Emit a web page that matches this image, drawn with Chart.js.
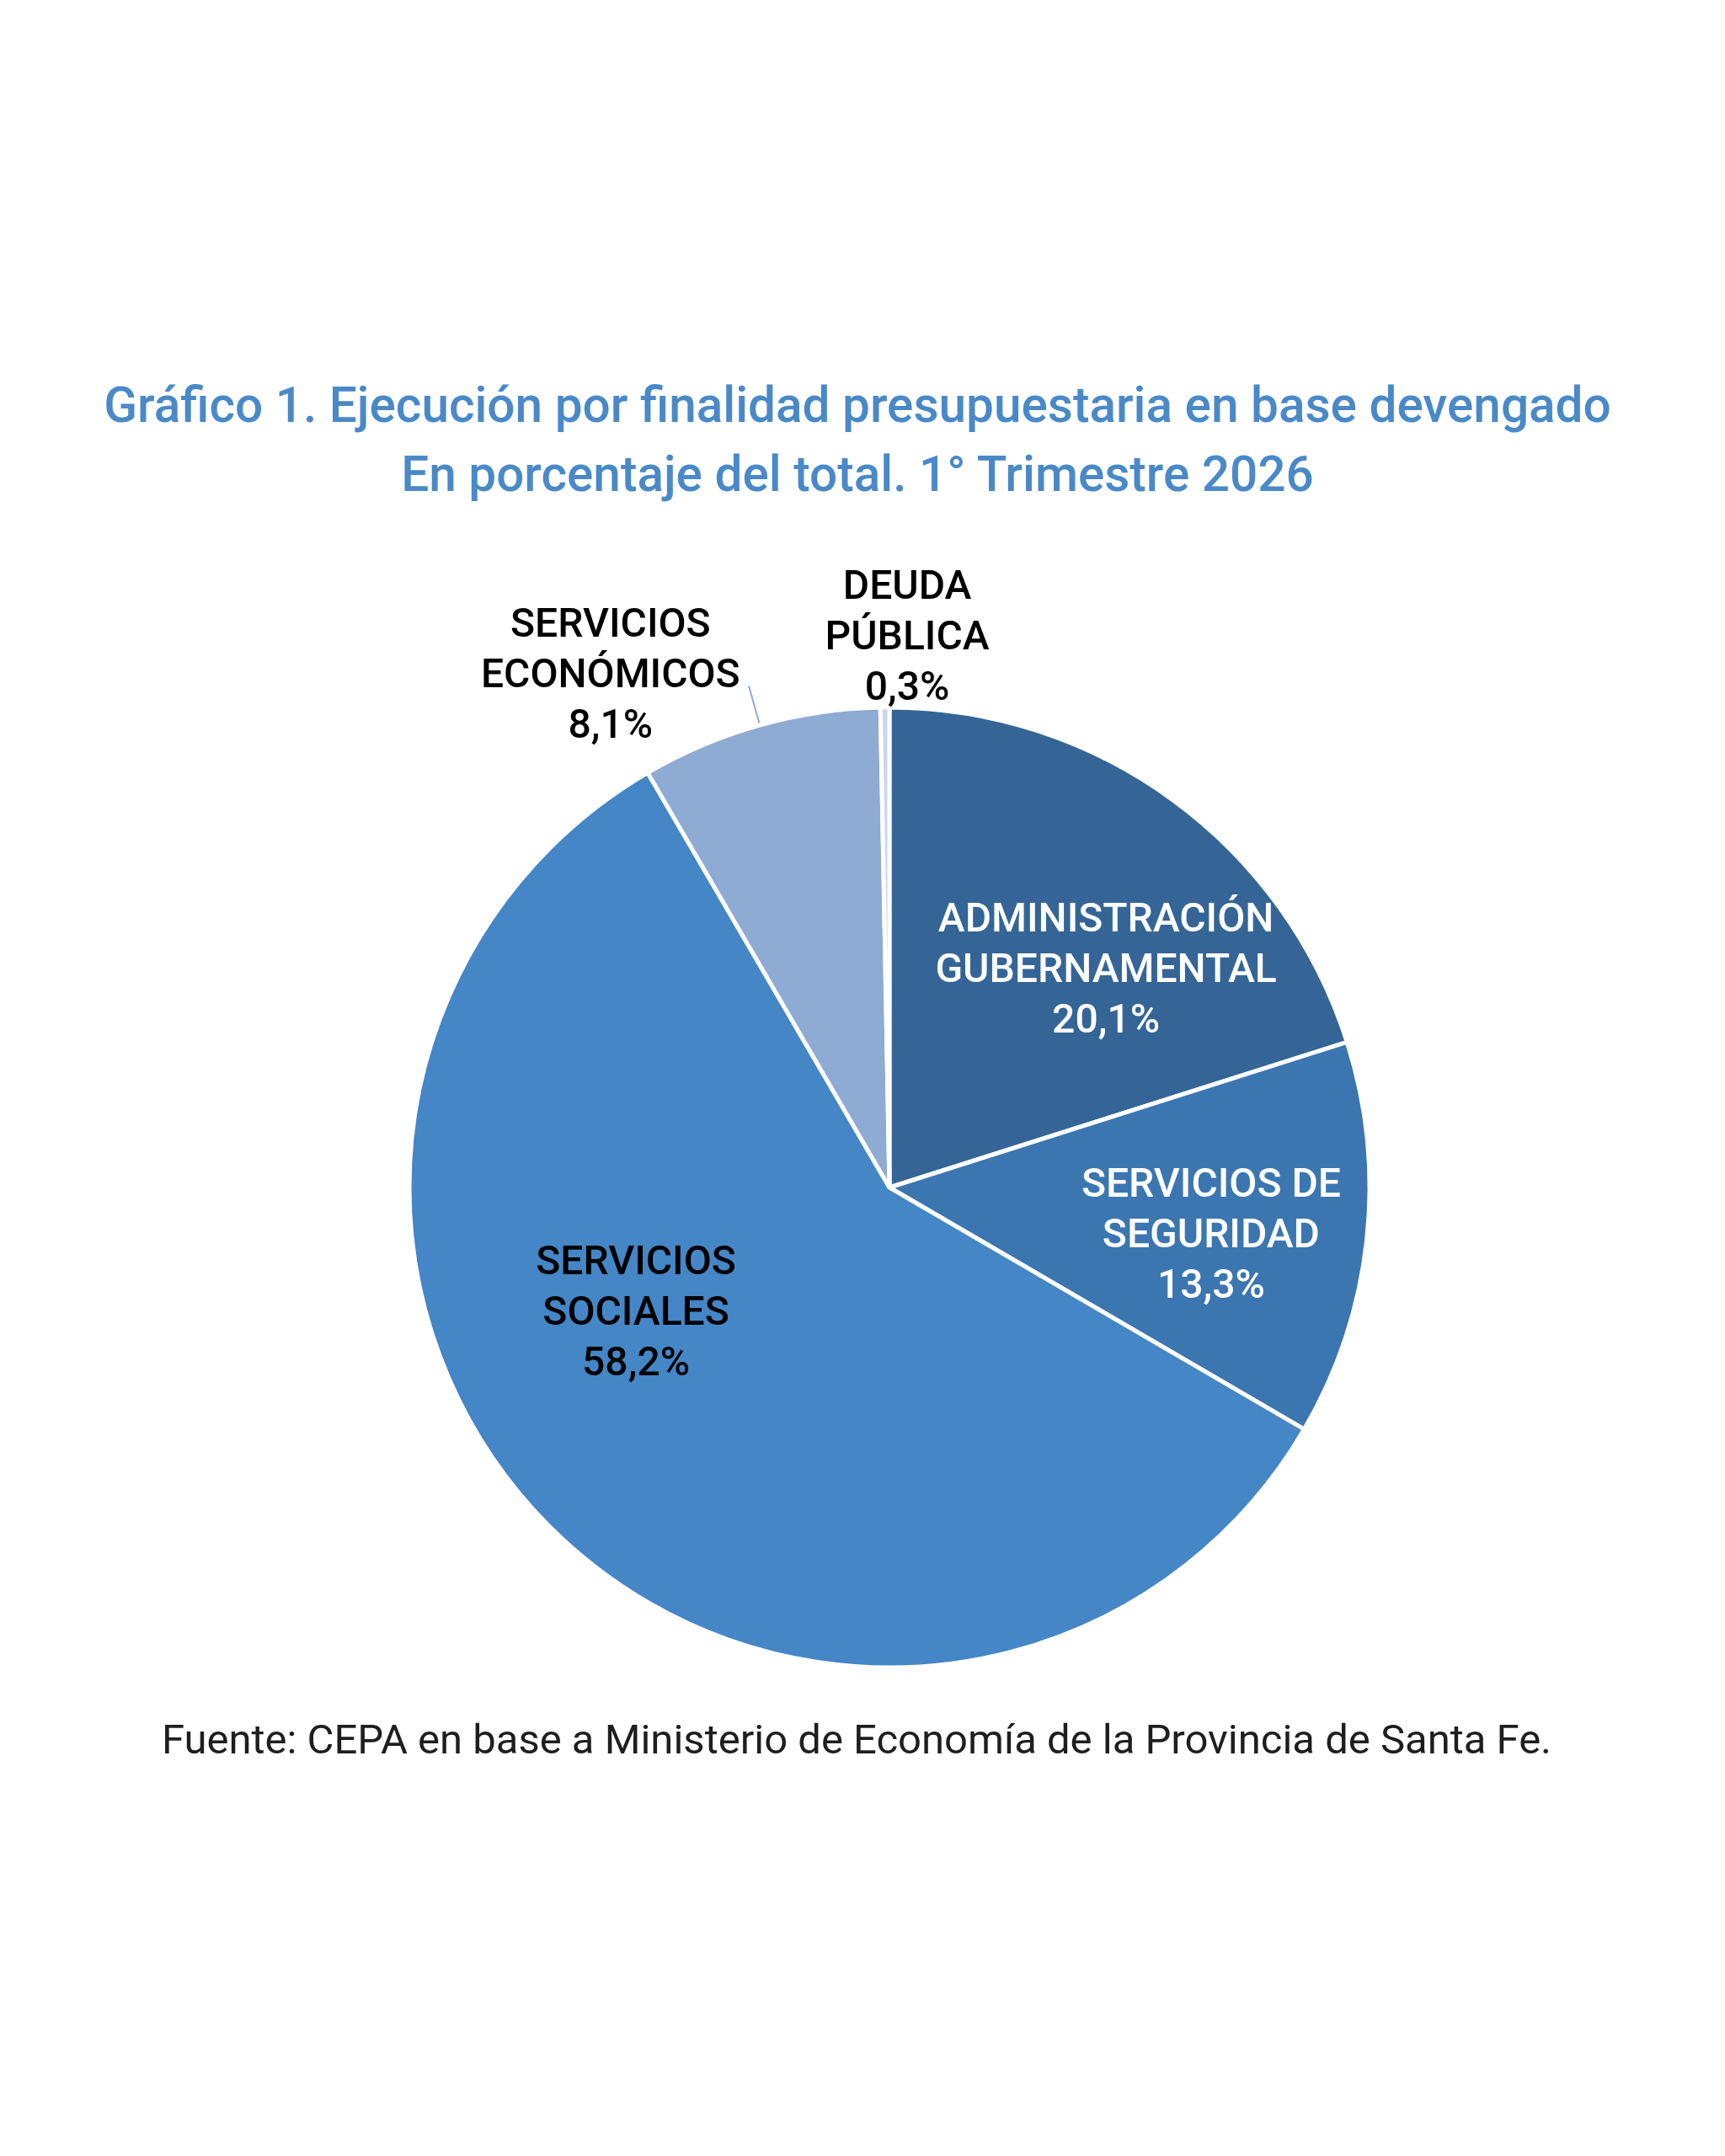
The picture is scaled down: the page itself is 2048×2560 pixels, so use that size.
<!DOCTYPE html>
<html lang="es">
<head>
<meta charset="utf-8">
<title>Ejecución por finalidad presupuestaria</title>
<script src="https://cdn.jsdelivr.net/npm/chart.js@4.4.1/dist/chart.umd.min.js"></script>
<style>
  html, body { margin: 0; padding: 0; background: #fff; }
  #wrap { position: relative; width: 2048px; height: 2560px; font-family: Roboto, "Noto Sans", sans-serif; }
  #titulo {
    position: absolute; left: 0; top: 440px; width: 2036px;
    text-align: center; color: #4a89c8; font-weight: 500;
    font-size: 58.5px; line-height: 82px;
  }
  #fuente {
    position: absolute; left: 0; top: 2038px; width: 2034px;
    text-align: center; color: #1e1e1e; font-size: 49px; line-height: 56px;
  }
  #myChart { position: absolute; left: 0; top: 0; }
</style>
</head>
<body>
<div id="wrap">
  <canvas id="myChart" width="2048" height="2560"></canvas>
  <div id="titulo">Gráfico 1. Ejecución por finalidad presupuestaria en base devengado<br>En porcentaje del total. 1° Trimestre 2026</div>
  <div id="fuente">Fuente: CEPA en base a Ministerio de Economía de la Provincia de Santa Fe.</div>
</div>
<script>
// datos
const categorias = [
  ['ADMINISTRACIÓN', 'GUBERNAMENTAL'],
  ['SERVICIOS DE', 'SEGURIDAD'],
  ['SERVICIOS', 'SOCIALES'],
  ['SERVICIOS', 'ECONÓMICOS'],
  ['DEUDA', 'PÚBLICA']
];
const porcentajes = [20.1, 13.3, 58.2, 8.1, 0.3];

const colores = ['#346596', '#3b76b0', '#4586c6', '#8eabd4', '#c9d6ec'];
const colorTexto = ['#ffffff', '#ffffff', '#000000', '#000000', '#000000'];
// ubicacion de cada etiqueta, en fracciones del radio respecto al centro
const posEtiqueta = [
  [0.451, -0.449],
  [0.670, 0.103],
  [-0.528, 0.265],
  [-0.581, -1.063],
  [0.037, -1.142]
];

const fmt = v => v.toFixed(1).replace('.', ',') + '%';

// etiquetas sobre y fuera de la torta
const etiquetas = {
  id: 'etiquetas',
  afterDatasetsDraw(chart) {
    const ctx = chart.ctx;
    const arcs = chart.getDatasetMeta(0).data;
    ctx.save();
    // linea guia para servicios economicos
    const a = arcs[3];
    const mid = (a.startAngle + a.endAngle) / 2;
    ctx.strokeStyle = '#8eabd4';
    ctx.lineWidth = 2;
    ctx.beginPath();
    ctx.moveTo(a.x + Math.cos(mid) * a.outerRadius * 1.005, a.y + Math.sin(mid) * a.outerRadius * 1.005);
    ctx.lineTo(a.x + Math.cos(mid) * a.outerRadius * 1.085, a.y + Math.sin(mid) * a.outerRadius * 1.085);
    ctx.stroke();

    ctx.font = '500 48px Roboto';
    ctx.textAlign = 'center';
    ctx.textBaseline = 'middle';
    arcs.forEach((arc, i) => {
      const cx = arc.x + posEtiqueta[i][0] * arc.outerRadius;
      const cy = arc.y + posEtiqueta[i][1] * arc.outerRadius;
      const lineas = categorias[i].concat([fmt(porcentajes[i])]);
      ctx.fillStyle = colorTexto[i];
      lineas.forEach((t, j) => {
        ctx.fillText(t, cx, cy + (j - 1) * 60);
      });
    });
    ctx.restore();
  }
};

const data = {
  labels: categorias.map(c => c.join(' ')),
  datasets: [{
    data: porcentajes,
    backgroundColor: colores,
    borderColor: '#ffffff',
    borderWidth: 5
  }]
};

const config = {
  type: 'pie',
  data: data,
  options: {
    responsive: false,
    animation: false,
    devicePixelRatio: 1,
    radius: 570,
    layout: { padding: { left: 456, right: 392, top: 810, bottom: 550 } },
    plugins: {
      legend: { display: false },
      tooltip: { enabled: false }
    }
  },
  plugins: [etiquetas]
};

let myChart = new Chart(document.getElementById('myChart'), config);
</script>
</body>
</html>
